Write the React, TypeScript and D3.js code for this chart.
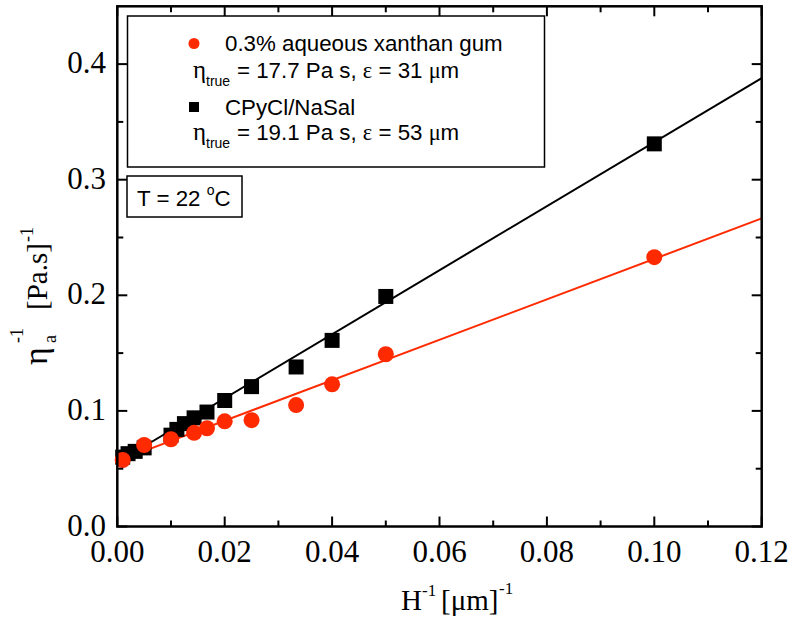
import React from "react";
import * as d3 from "d3";

// ---- data ----
const squareX = [0.001, 0.002, 0.00333, 0.005, 0.01, 0.0111, 0.0125, 0.0143, 0.0167, 0.02, 0.025, 0.0333, 0.04, 0.05, 0.1];
const squareY = [0.06, 0.063, 0.065, 0.068, 0.079, 0.084, 0.089, 0.094, 0.099, 0.109, 0.121, 0.138, 0.161, 0.199, 0.331];
const circleX = [0.001, 0.005, 0.01, 0.0143, 0.0167, 0.02, 0.025, 0.0333, 0.04, 0.05, 0.1];
const circleY = [0.0575, 0.0705, 0.0755, 0.081, 0.085, 0.091, 0.092, 0.105, 0.123, 0.149, 0.233];
// linear fits: [intercept, slope]
const blackFit = [0.0555, 2.77];
const redFit = [0.0565, 1.75];
const fitRange = [0.0005, 0.12];

const xMajor = [0, 0.02, 0.04, 0.06, 0.08, 0.1, 0.12];
const xMinor = [0.01, 0.03, 0.05, 0.07, 0.09, 0.11];
const yMajor = [0, 0.1, 0.2, 0.3, 0.4];
const yMinor = [0.05, 0.15, 0.25, 0.35];

const legendLabels = ["0.3% aqueous xanthan gum", "CPyCl/NaSal"];
const legendEta = ["17.7", "19.1"];
const legendEps = ["31", "53"];

const RED = "#ff2a00";
const SERIF = "'Liberation Serif', 'Times New Roman', serif";
const SANS = "'Liberation Sans', Arial, sans-serif";

export default function App() {
  const x = d3.scaleLinear().domain([0, 0.12]).range([117.3, 761.7]);
  const y = d3.scaleLinear().domain([0, 0.45]).range([526.5, 6.3]);
  const [x0, x1] = x.range();
  const [y0, y1] = y.range();
  const fmtX = d3.format(".2f");
  const fmtY = d3.format(".1f");
  const line = d3.line<number[]>().x((d) => x(d[0])).y((d) => y(d[1]));
  const fitPts = (f: number[]) => fitRange.map((v) => [v, f[0] + f[1] * v]);

  const major = 10;
  const minor = 6;
  const LF = 22.3;

  return (
    <svg width={792} height={626} style={{ position: "absolute", left: 0, top: 0, background: "#fff" }}>
      <rect x={0} y={0} width={792} height={626} fill="#fff" />
      {/* fit lines */}
      <path d={line(fitPts(redFit)) || ""} stroke={RED} strokeWidth={2} fill="none" />
      <path d={line(fitPts(blackFit)) || ""} stroke="#000" strokeWidth={2} fill="none" />
      {/* squares */}
      {squareX.map((v, i) => (
        <rect key={"s" + i} x={x(v) - 7.5} y={y(squareY[i]) - 7.5} width={15} height={15} fill="#000" />
      ))}
      {/* circles */}
      {circleX.map((v, i) => (
        <circle key={"c" + i} cx={x(v)} cy={y(circleY[i])} r={8} fill={RED} />
      ))}

      {/* frame */}
      <rect x={x0} y={y1} width={x1 - x0} height={y0 - y1} fill="none" stroke="#000" strokeWidth={2.5} />
      {xMajor.map((v) => (
        <g key={"xm" + v}>
          <line x1={x(v)} x2={x(v)} y1={y0} y2={y0 - major} stroke="#000" strokeWidth={2} />
          <line x1={x(v)} x2={x(v)} y1={y1} y2={y1 + major} stroke="#000" strokeWidth={2} />
          <text x={x(v)} y={562} textAnchor="middle" fontFamily={SERIF} fontSize={31}>{fmtX(v)}</text>
        </g>
      ))}
      {xMinor.map((v) => (
        <g key={"xn" + v}>
          <line x1={x(v)} x2={x(v)} y1={y0} y2={y0 - minor} stroke="#000" strokeWidth={2} />
          <line x1={x(v)} x2={x(v)} y1={y1} y2={y1 + minor} stroke="#000" strokeWidth={2} />
        </g>
      ))}
      {yMajor.map((v) => (
        <g key={"ym" + v}>
          <line x1={x0} x2={x0 + major} y1={y(v)} y2={y(v)} stroke="#000" strokeWidth={2} />
          <line x1={x1} x2={x1 - major} y1={y(v)} y2={y(v)} stroke="#000" strokeWidth={2} />
          <text x={106} y={y(v) + 9} textAnchor="end" fontFamily={SERIF} fontSize={31}>{fmtY(v)}</text>
        </g>
      ))}
      {yMinor.map((v) => (
        <g key={"yn" + v}>
          <line x1={x0} x2={x0 + minor} y1={y(v)} y2={y(v)} stroke="#000" strokeWidth={2} />
          <line x1={x1} x2={x1 - minor} y1={y(v)} y2={y(v)} stroke="#000" strokeWidth={2} />
        </g>
      ))}

      {/* axis titles */}
      <g fontFamily={SERIF}>
        <text x={401} y={610} fontSize={29}>H</text>
        <text x={422} y={596} fontSize={17}>-1</text>
        <text x={441} y={610} fontSize={29}>[μm]</text>
        <text x={499} y={594} fontSize={17}>-1</text>
      </g>
      <g transform="translate(47,365) rotate(-90)" fontFamily={SERIF}>
        <text x={0} y={0} fontSize={34}>η</text>
        <text x={22} y={9} fontSize={18}>a</text>
        <text x={22} y={-24} fontSize={18}>-1</text>
        <text x={55} y={0} fontSize={29}>[Pa.s]</text>
        <text x={123} y={-14} fontSize={18}>-1</text>
      </g>

      {/* legend */}
      <rect x={127.5} y={16} width={417} height={151} fill="#fff" stroke="#000" strokeWidth={1.5} />
      <circle cx={194} cy={43.5} r={5.5} fill={RED} />
      <rect x={189} y={102} width={10} height={10} fill="#000" />
      {legendLabels.map((t, i) => (
        <text key={"l" + i} x={225} y={51 + i * 63.5} fontFamily={SANS} fontSize={LF}>{t}</text>
      ))}
      {legendEta.map((t, i) => (
        <g key={"p" + i}>
          <text x={193} y={78 + i * 62} fontFamily={SERIF} fontSize={25}>η</text>
          <text x={206} y={86 + i * 62} fontFamily={SANS} fontSize={14}>true</text>
          <text x={237} y={78 + i * 62} fontFamily={SANS} fontSize={LF}>
            = {t} Pa s, <tspan fontFamily={SERIF}>ε</tspan> = {legendEps[i]} <tspan fontFamily={SERIF}>μ</tspan>m
          </text>
        </g>
      ))}

      <rect x={127} y={176} width={115} height={41} fill="#fff" stroke="#000" strokeWidth={1.5} />
      <text x={137} y={206} fontFamily={SANS} fontSize={LF}>
        T = 22 <tspan fontSize={14} dy={-11}>o</tspan><tspan fontSize={LF} dy={11}>C</tspan>
      </text>
    </svg>
  );
}
